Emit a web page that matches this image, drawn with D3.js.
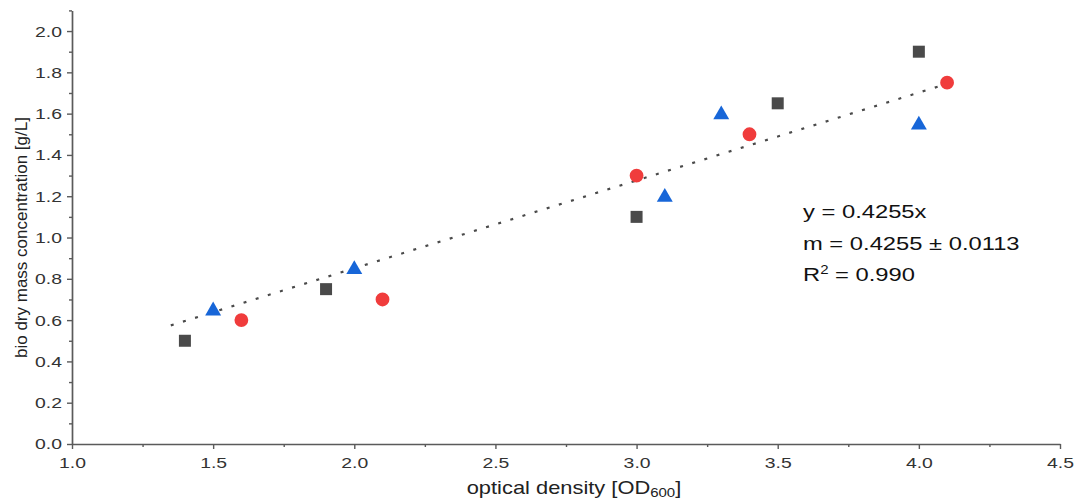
<!DOCTYPE html>
<html>
<head>
<meta charset="utf-8">
<script src="https://cdn.jsdelivr.net/npm/d3@7"></script>
<style>
  html, body { margin: 0; padding: 0; background: #fff; }
  svg { display: block; font-family: "Liberation Sans", Arial, sans-serif; }
</style>
</head>
<body>
<svg id="chart" width="1076" height="502"></svg>
<script>
// Calibration measurements: optical density vs. bio dry mass concentration
const squareOD   = [1.4, 1.9, 3.0, 3.5, 4.0];
const squareBDM  = [0.5, 0.75, 1.1, 1.65, 1.9];
const circleOD   = [1.6, 2.1, 3.0, 3.4, 4.1];
const circleBDM  = [0.6, 0.7, 1.3, 1.5, 1.75];
const triangleOD  = [1.5, 2.0, 3.1, 3.3, 4.0];
const triangleBDM = [0.65, 0.85, 1.2, 1.6, 1.55];

// Linear fit through origin
const slope = 0.4255;
const fitRange = [1.35, 4.08];

const xTicks = [1.0, 1.5, 2.0, 2.5, 3.0, 3.5, 4.0, 4.5];
const yTicks = [0.0, 0.2, 0.4, 0.6, 0.8, 1.0, 1.2, 1.4, 1.6, 1.8, 2.0];
const fitLines = ["y = 0.4255x", "m = 0.4255 ± 0.0113", "R² = 0.990"];

const svg = d3.select("#chart");
const axisColor = "#5a5a5a";
const sx = 1.25; // horizontal glyph widening

const x = d3.scaleLinear().domain([1.0, 4.5]).range([72, 1060]);
const y = d3.scaleLinear().domain([0, 2.1]).range([444, 10.4]);

// Axes
const xAxis = svg.append("g").attr("transform", `translate(0,${y(0)})`)
  .call(d3.axisBottom(x).tickValues(xTicks).tickFormat(d3.format(".1f")).tickSize(5).tickSizeOuter(0));
const yAxis = svg.append("g").attr("transform", `translate(${x(1.0)},0)`)
  .call(d3.axisLeft(y).tickValues(yTicks).tickFormat(d3.format(".1f")).tickSize(5).tickSizeOuter(0));

// Minor ticks
svg.append("g").attr("transform", `translate(0,${y(0)})`)
  .call(d3.axisBottom(x).tickValues(d3.range(1.25, 4.5, 0.5)).tickFormat("").tickSize(3).tickSizeOuter(0))
  .select(".domain").remove();
svg.append("g").attr("transform", `translate(${x(1.0)},0)`)
  .call(d3.axisLeft(y).tickValues(d3.range(0.1, 2.15, 0.2)).tickFormat("").tickSize(3).tickSizeOuter(0))
  .select(".domain").remove();

svg.selectAll(".domain").attr("stroke", axisColor).attr("stroke-width", 1.7);
svg.selectAll(".tick line").attr("stroke", axisColor).attr("stroke-width", 1.4);
svg.selectAll(".tick text").attr("fill", "#333").style("font-size", "15.5px")
  .attr("transform", `scale(${sx},1)`);
xAxis.selectAll(".tick text").attr("dy", "1.05em");
yAxis.selectAll(".tick text").attr("x", -10 / sx);

// Axis titles
const xTitle = svg.append("text")
  .attr("transform", `translate(574,494) scale(${sx},1)`)
  .attr("text-anchor", "middle")
  .attr("fill", "#222").style("font-size", "17.5px")
  .text("optical density [OD");
xTitle.append("tspan").attr("dy", 3).style("font-size", "12px").text("600");
xTitle.append("tspan").attr("dy", -3).text("]");

svg.append("text")
  .attr("transform", `translate(27,${y(1.0)}) rotate(-90)`)
  .attr("text-anchor", "middle")
  .attr("fill", "#222").style("font-size", "17px")
  .text("bio dry mass concentration [g/L]");

// Fit line
svg.append("line")
  .attr("x1", x(fitRange[0])).attr("y1", y(slope * fitRange[0]))
  .attr("x2", x(fitRange[1])).attr("y2", y(slope * fitRange[1]))
  .attr("stroke", "#4a4a4a").attr("stroke-width", 2.2)
  .attr("stroke-dasharray", "3,9.7");

// Data markers
const squares = squareOD.map((d, i) => [d, squareBDM[i]]);
const circles = circleOD.map((d, i) => [d, circleBDM[i]]);
const triangles = triangleOD.map((d, i) => [d, triangleBDM[i]]);

svg.append("g").selectAll("path").data(squares).join("path")
  .attr("d", d3.symbol(d3.symbolSquare, 144))
  .attr("transform", d => `translate(${x(d[0])},${y(d[1])})`)
  .attr("fill", "#4a4a4a");

svg.append("g").selectAll("path").data(circles).join("path")
  .attr("d", d3.symbol(d3.symbolCircle, 150))
  .attr("transform", d => `translate(${x(d[0])},${y(d[1])})`)
  .attr("fill", "#f03c3c");

svg.append("g").selectAll("path").data(triangles).join("path")
  .attr("d", d3.symbol(d3.symbolTriangle, 110))
  .attr("transform", d => `translate(${x(d[0])},${y(d[1]) + 1})`)
  .attr("fill", "#1766d8");

// Fit annotation
const ann = svg.append("g").attr("fill", "#111").style("font-size", "19px");
const annLine = (ty) => ann.append("text").attr("transform", `translate(803,${ty}) scale(${sx},1)`);
annLine(218).text(fitLines[0]);
annLine(250).text(fitLines[1]);
const r2 = annLine(281);
r2.append("tspan").text("R");
r2.append("tspan").attr("dy", -7).style("font-size", "12px").text("2");
r2.append("tspan").attr("dy", 7).text(fitLines[2].slice(2));
</script>
</body>
</html>
